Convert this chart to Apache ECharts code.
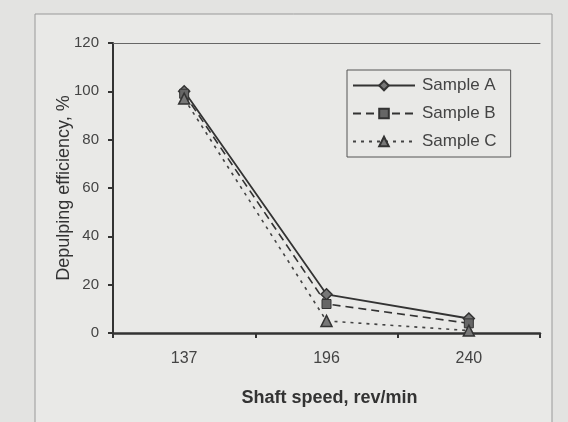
<!DOCTYPE html>
<html>
<head>
<meta charset="utf-8">
<script src="https://cdn.jsdelivr.net/npm/echarts@6/dist/echarts.min.js"></script>
<style>
html,body{margin:0;padding:0;background:#e3e3e1;}
#c{width:568px;height:422px;}
</style>
</head>
<body>
<div id="c"></div>
<script>
const categories = ['137', '196', '240'];
const sampleA = [100, 16, 6];
const sampleB = [99, 12, 4];
const sampleC = [97, 5, 1];
const yTicks = {min: 0, max: 120, interval: 20};

const ink = '#333';
const font = 'Liberation Sans, Arial, sans-serif';
const chart = echarts.init(document.getElementById('c'));
chart.setOption({
  backgroundColor: '#e3e3e1',
  animation: false,
  textStyle: {fontFamily: font},
  graphic: [{
    type: 'rect', silent: true, z: -1,
    shape: {x: 35, y: 14, width: 517, height: 420},
    style: {fill: '#e9e9e7', stroke: '#999', lineWidth: 1}
  }],
  grid: {left: 113, right: 28, top: 43, bottom: 89},
  legend: {
    orient: 'vertical', left: 347, top: 70,
    borderColor: '#555', borderWidth: 1, padding: [7, 14, 7, 5],
    itemGap: 11, itemWidth: 62, itemHeight: 12,
    backgroundColor: '#e9e9e7',
    textStyle: {fontSize: 17, color: '#444', fontFamily: font, padding: [0, 0, 0, 2]},
    data: ['Sample A', 'Sample B', 'Sample C']
  },
  xAxis: [{
    type: 'category', data: categories, boundaryGap: true,
    name: 'Shaft speed, rev/min', nameLocation: 'middle', nameGap: 56,
    nameTextStyle: {fontSize: 18, color: '#333', fontWeight: 'bold', fontFamily: font, padding: [0, 0, 0, 6]},
    axisLine: {lineStyle: {color: ink, width: 2.5}},
    axisTick: {show: true, length: 5, lineStyle: {color: ink, width: 2}},
    axisLabel: {fontSize: 16, color: '#444', margin: 18, fontFamily: font},
    splitLine: {show: false}
  }, {
    type: 'category', data: categories, position: 'top',
    axisLine: {show: true, lineStyle: {color: '#666', width: 1}},
    axisTick: {show: false}, axisLabel: {show: false}
  }],
  yAxis: {
    type: 'value', min: yTicks.min, max: yTicks.max, interval: yTicks.interval,
    name: 'Depulping efficiency, %', nameLocation: 'middle', nameGap: 40,
    nameMoveOverlap: false,
    nameTextStyle: {fontSize: 18, color: '#333', fontFamily: font},
    axisLine: {show: true, lineStyle: {color: ink, width: 2}},
    axisTick: {show: true, length: 5, lineStyle: {color: ink, width: 2}},
    axisLabel: {fontSize: 15, color: '#444', margin: 14, fontFamily: font},
    splitLine: {show: false}
  },
  series: [{
    name: 'Sample A', type: 'line', data: sampleA,
    symbol: 'diamond', symbolSize: 11,
    lineStyle: {color: ink, width: 1.8, type: 'solid'},
    itemStyle: {color: '#777', borderColor: ink, borderWidth: 1.5}
  }, {
    name: 'Sample B', type: 'line', data: sampleB,
    symbol: 'rect', symbolSize: 9,
    lineStyle: {color: ink, width: 1.6, type: [8, 5]},
    itemStyle: {color: '#666', borderColor: ink, borderWidth: 1}
  }, {
    name: 'Sample C', type: 'line', data: sampleC,
    symbol: 'triangle', symbolSize: 11,
    lineStyle: {color: '#444', width: 1.6, type: [3, 5]},
    itemStyle: {color: '#777', borderColor: ink, borderWidth: 1.5}
  }]
});
</script>
</body>
</html>
